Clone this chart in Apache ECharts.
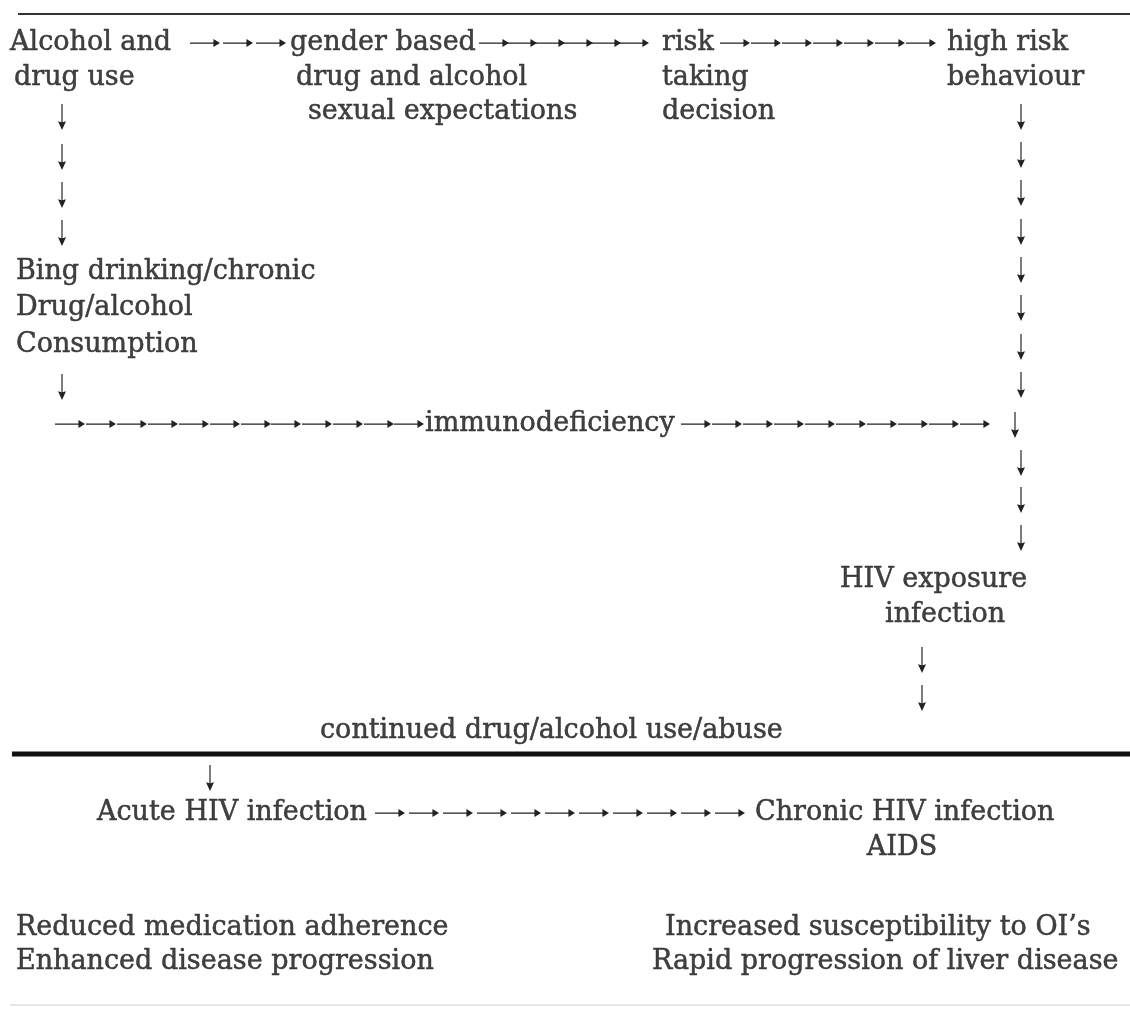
<!DOCTYPE html>
<html><head><meta charset="utf-8">
<script src="https://cdn.jsdelivr.net/npm/echarts@6/dist/echarts.min.js"></script>
<style>html,body{margin:0;padding:0;background:#fff}#c{width:1130px;height:1016px}</style>
</head><body><div id="c"></div>
<script>
// Diagram text blocks: [x (left), y (middle), text]
const leftTexts = [
  [10, 43, 'Alcohol and'], [290, 43, 'gender based'], [662, 43, 'risk'], [947, 43, 'high risk'],
  [14, 78, 'drug use'], [296, 78, 'drug and alcohol'], [662, 78, 'taking'], [947, 78, 'behaviour'],
  [308, 112, 'sexual expectations'], [662, 112, 'decision'],
  [16, 272, 'Bing drinking/chronic'], [16, 308, 'Drug/alcohol'], [16, 345, 'Consumption'],
  [425, 424, 'immunodeficiency'],
  [840, 580, 'HIV exposure'], [885, 615, 'infection'],
  [320, 731, 'continued drug/alcohol use/abuse'],
  [97, 813, 'Acute HIV infection'], [755, 813, 'Chronic HIV infection'],
  [16, 928, 'Reduced medication adherence'], [665, 928, 'Increased susceptibility to OI\u2019s'],
  [16, 962, 'Enhanced disease progression'], [652, 962, 'Rapid progression of liver disease']
];
const centredTexts = [[902, 848, 'AIDS']];

// Horizontal arrow runs: y and arrow centre x positions
const run1 = {y: 43, xs: [205, 238, 271]};
const run2 = {y: 43, xs: [494, 522, 550, 578, 606, 634]};
const run3 = {y: 43, xs: [735, 766, 797, 828, 859, 890, 921]};
const run4 = {y: 424, xs: [70, 101, 132, 163, 194, 225, 256, 286, 317, 348, 379, 409]};
const run5 = {y: 424, xs: [696, 727, 758, 789, 820, 851, 882, 913, 944, 975]};
const run6 = {y: 813, xs: [390, 424, 458, 492, 526, 560, 594, 628, 662, 696, 730]};

// Vertical (down) arrows: [x, y]
const leftColumn = [[62, 117], [62, 157], [62, 195], [62, 233], [62, 387]];
const rightColumn = [[1021, 117], [1021, 155], [1021, 193], [1021, 232], [1021, 270], [1021, 308],
  [1021, 347], [1021, 385], [1015, 425], [1021, 463], [1021, 500], [1021, 538]];
const exposureArrows = [[922, 660], [922, 698]];
const acuteArrow = [[210, 778]];

// Horizontal rules: [[x1,y],[x2,y]]
const topRule = [[18, 14], [1130, 14]];
const midRule = [[12, 754], [1130, 754]];
const bottomRule = [[10, 1005], [1130, 1005]];

const FONT = '"DejaVu Serif", "Liberation Serif", serif';
const INK = '#111111';
const RIGHT_ARROW = 'path://M0,3.5 L25,3.5 L25,0.8 L32,4 L25,7.2 L25,4.5 L0,4.5 Z';
const DOWN_ARROW = 'path://M3.5,0 L4.5,0 L4.5,21 L7.4,20 L4,30 L0.6,20 L3.5,21 Z';

const toPts = arr => arr.map(d => ({value: [d[0], d[1]], name: d[2]}));
const runPts = run => run.xs.map(x => [x, run.y]);
const rightArrowPts = [].concat(runPts(run1), runPts(run2), runPts(run3), runPts(run4), runPts(run5), runPts(run6));
const downArrowPts = [].concat(leftColumn, rightColumn, exposureArrows, acuteArrow);

const ruleSeries = (data, width, color) => ({
  type: 'line', data: data, symbol: 'none', silent: true,
  lineStyle: {width: width, color: color}, animation: false
});

const textStyle = {color: INK, fontFamily: FONT, fontSize: 27, textBorderColor: INK, textBorderWidth: 0.5};

const chart = echarts.init(document.getElementById('c'), null, {renderer: 'canvas'});
chart.setOption({
  backgroundColor: '#ffffff',
  animation: false,
  grid: {left: 0, right: 0, top: 0, bottom: 0},
  xAxis: {type: 'value', min: 0, max: 1130, show: false},
  yAxis: {type: 'value', min: 0, max: 1016, inverse: true, show: false},
  series: [
    {
      type: 'scatter', symbolSize: 0, data: toPts(leftTexts), silent: true,
      label: Object.assign({show: true, position: 'right', distance: 0, formatter: p => p.name,
        align: 'left', verticalAlign: 'middle'}, textStyle)
    },
    {
      type: 'scatter', symbolSize: 0, data: toPts(centredTexts), silent: true,
      label: Object.assign({show: true, position: 'inside', formatter: p => p.name}, textStyle)
    },
    {
      type: 'scatter', data: rightArrowPts, silent: true,
      symbol: RIGHT_ARROW, symbolSize: [30, 8], itemStyle: {color: '#222', opacity: 1}
    },
    {
      type: 'scatter', data: downArrowPts, silent: true,
      symbol: DOWN_ARROW, symbolSize: [8, 26], itemStyle: {color: '#222', opacity: 1}
    },
    ruleSeries(topRule, 2, '#333'),
    ruleSeries(midRule, 5, '#111'),
    ruleSeries(bottomRule, 2, '#e6e6e6')
  ]
});
</script></body></html>
